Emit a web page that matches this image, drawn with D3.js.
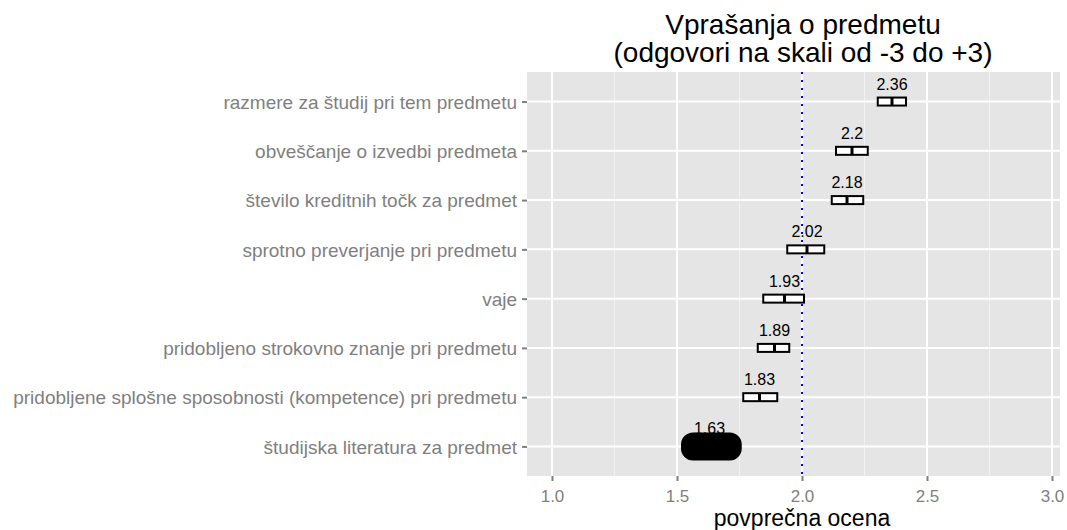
<!DOCTYPE html>
<html>
<head>
<meta charset="utf-8">
<script src="https://cdn.jsdelivr.net/npm/d3@7"></script>
<style>
  body { margin: 0; background: #fff; }
  text { font-family: "Liberation Sans", Arial, sans-serif; }
</style>
</head>
<body>
<div id="chart"></div>
<script>
var categories = [
  "razmere za študij pri tem predmetu",
  "obveščanje o izvedbi predmeta",
  "število kreditnih točk za predmet",
  "sprotno preverjanje pri predmetu",
  "vaje",
  "pridobljeno strokovno znanje pri predmetu",
  "pridobljene splošne sposobnosti (kompetence) pri predmetu",
  "študijska literatura za predmet"
];
var means = [2.36, 2.2, 2.18, 2.02, 1.93, 1.89, 1.83, 1.63];
var lower = [2.303, 2.136, 2.119, 1.941, 1.845, 1.823, 1.765, 1.556];
var upper = [2.416, 2.263, 2.245, 2.089, 2.008, 1.949, 1.901, 1.719];
var xTicks = [1.0, 1.5, 2.0, 2.5, 3.0];
var xMinor = [1.25, 1.75, 2.25, 2.75];
var refValue = 2.0;

var width = 1067, height = 530;
var margin = {top: 72, right: 7, bottom: 54, left: 527};

var svg = d3.select("#chart").append("svg")
            .attr("width", width)
            .attr("height", height);

var x = d3.scaleLinear()
          .domain([0.9, 3.032])
          .range([margin.left, width - margin.right]);

var y = d3.scalePoint()
          .domain(categories)
          .range([margin.top, height - margin.bottom])
          .padding(0.6);

// panel
svg.append("rect")
   .attr("x", margin.left).attr("y", margin.top)
   .attr("width", width - margin.right - margin.left)
   .attr("height", height - margin.bottom - margin.top)
   .style("fill", "#e5e5e5");

var grid = svg.append("g");
grid.selectAll("line.minor").data(xMinor).enter().append("line")
    .attr("x1", function(d) { return x(d); }).attr("x2", function(d) { return x(d); })
    .attr("y1", margin.top).attr("y2", height - margin.bottom)
    .style("stroke", "#f2f2f2").style("stroke-width", 1);
grid.selectAll("line.major").data(xTicks).enter().append("line")
    .attr("x1", function(d) { return x(d); }).attr("x2", function(d) { return x(d); })
    .attr("y1", margin.top).attr("y2", height - margin.bottom)
    .style("stroke", "#fff").style("stroke-width", 2);
grid.selectAll("line.hmajor").data(categories).enter().append("line")
    .attr("x1", margin.left).attr("x2", width - margin.right)
    .attr("y1", function(d) { return y(d); }).attr("y2", function(d) { return y(d); })
    .style("stroke", "#fff").style("stroke-width", 2);

// axes
var xAxis = svg.append("g")
   .attr("transform", "translate(0," + (height - margin.bottom) + ")")
   .call(d3.axisBottom(x).tickValues(xTicks).tickFormat(d3.format(".1f")).tickSize(5).tickPadding(7));
var yAxis = svg.append("g")
   .attr("transform", "translate(" + margin.left + ",0)")
   .call(d3.axisLeft(y).tickSize(5).tickPadding(5));
[xAxis, yAxis].forEach(function(a) {
  a.select(".domain").remove();
  a.selectAll(".tick line").style("stroke", "#7f7f7f").style("stroke-width", 2);
  a.selectAll(".tick text").style("fill", "#7f7f7f")
   .style("font-family", "Liberation Sans, Arial, sans-serif");
});
xAxis.selectAll(".tick text").style("font-size", "17px").attr("dy", "0.8em");
yAxis.selectAll(".tick text").style("font-size", "19px").attr("dy", "0.35em");

// reference line
svg.append("line")
   .attr("x1", x(refValue)).attr("x2", x(refValue))
   .attr("y1", margin.top).attr("y2", height - margin.bottom)
   .style("stroke", "blue").style("stroke-width", 2)
   .style("stroke-dasharray", "2,6");

// boxes
var boxH = 8;
var marks = svg.append("g");
categories.forEach(function(c, i) {
  var cy = y(c);
  var last = (i === categories.length - 1);
  if (last) {
    marks.append("rect")
      .attr("x", x(lower[i])).attr("y", cy - boxH / 2)
      .attr("width", x(upper[i]) - x(lower[i])).attr("height", boxH)
      .attr("rx", 2)
      .style("fill", "#000").style("stroke", "#000")
      .style("stroke-width", 20).style("stroke-linejoin", "round");
  } else {
    marks.append("rect")
      .attr("x", x(lower[i])).attr("y", cy - boxH / 2)
      .attr("width", x(upper[i]) - x(lower[i])).attr("height", boxH)
      .style("fill", "#fff").style("stroke", "#000").style("stroke-width", 2);
    marks.append("line")
      .attr("x1", x(means[i])).attr("x2", x(means[i]))
      .attr("y1", cy - boxH / 2).attr("y2", cy + boxH / 2)
      .style("stroke", "#000").style("stroke-width", 3);
  }
  marks.append("text")
    .attr("x", x(means[i])).attr("y", cy - 12)
    .attr("text-anchor", "middle")
    .style("font-size", "16px").style("fill", "#000")
    .text(means[i]);
});

// titles
svg.append("text")
   .attr("x", 803).attr("y", 34)
   .attr("text-anchor", "middle")
   .style("font-size", "28px")
   .text("Vprašanja o predmetu");
svg.append("text")
   .attr("x", 803).attr("y", 62)
   .attr("text-anchor", "middle")
   .style("font-size", "28px")
   .text("(odgovori na skali od -3 do +3)");
svg.append("text")
   .attr("x", x(2.0)).attr("y", 526)
   .attr("text-anchor", "middle")
   .style("font-size", "23px")
   .text("povprečna ocena");
</script>
</body>
</html>
